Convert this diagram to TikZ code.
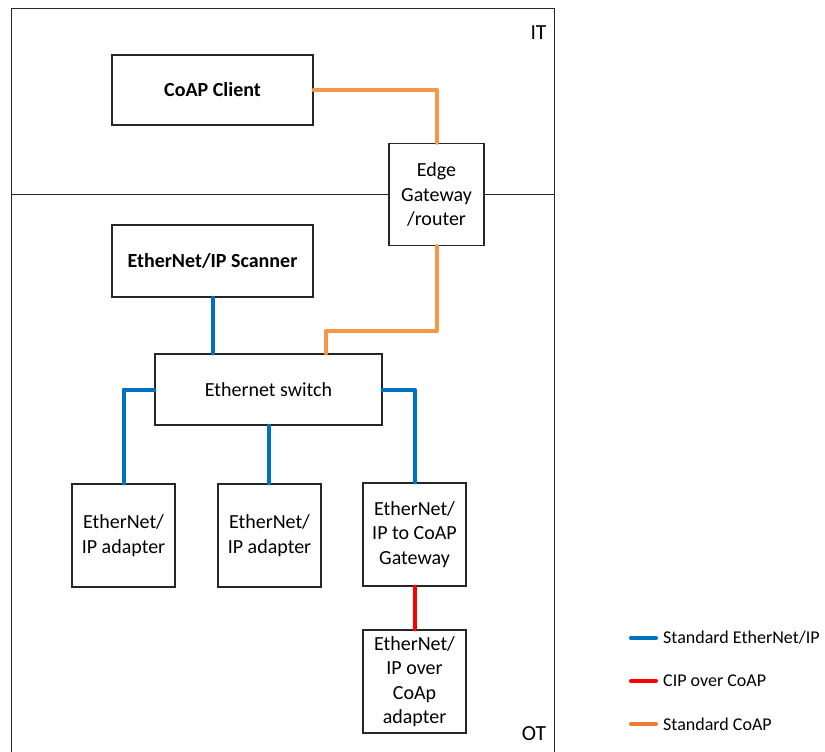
\documentclass[tikz,border=0pt]{standalone}
\usepackage{fontspec}
\setmainfont{Carlito}
\begin{document}
\begin{tikzpicture}[x=1pt,y=-1pt,
  box/.style={draw=black!85,line width=1.3pt,fill=white,align=center,
    font=\fontsize{20}{24.5}\selectfont,inner sep=2pt},
  boldbox/.style={box,font=\fontsize{20}{24.5}\selectfont\bfseries},
  link/.style={line width=4pt,line cap=round,line join=round},
  eip/.style={link,draw={rgb,255:red,0;green,112;blue,192}},
  cipcoap/.style={link,draw={rgb,255:red,255;green,0;blue,0}},
  coap/.style={link,draw={rgb,255:red,247;green,150;blue,70}},
  legcoap/.style={link,draw={rgb,255:red,237;green,125;blue,49}},
  legtext/.style={anchor=west,inner sep=0pt,font=\fontsize{18}{21}\selectfont},
  zonelbl/.style={inner sep=0pt,font=\fontsize{21.5}{24}\selectfont}]
\useasboundingbox (0,0) rectangle (825,752);

% IT / OT frame and divider
\draw[line width=1pt,black!85] (11,752) -- (11,9) -- (554,9) -- (554,752);
\draw[line width=1pt,black!85] (11,194) -- (554,194);
\node[zonelbl] (itlbl) at (538.5,32.5) {IT};
\node[zonelbl] (otlbl) at (534,734) {OT};

% devices
\node[boldbox,minimum width=201pt,minimum height=70pt] (client) at (212.5,90) {CoAP Client};
\node[box,minimum width=95pt,minimum height=102pt] (edge) at (436.5,194.5) {Edge\\Gateway\\/router};
\node[boldbox,minimum width=201pt,minimum height=72pt] (scanner) at (212.5,261) {EtherNet/IP Scanner};
\node[box,minimum width=227pt,minimum height=71pt] (switch) at (268.5,389.5) {Ethernet switch};
\node[box,minimum width=103pt,minimum height=103pt] (ad1) at (123.5,535.5) {EtherNet/\\IP adapter};
\node[box,minimum width=103pt,minimum height=103pt] (ad2) at (269.5,535.5) {EtherNet/\\IP adapter};
\node[box,minimum width=103pt,minimum height=103pt] (gwy) at (414.5,534.5) {EtherNet/\\IP to CoAP\\Gateway};
\node[box,minimum width=103pt,minimum height=103pt] (cad) at (414.5,681.5) {EtherNet/\\IP over\\CoAp\\adapter};

% connections
\draw[coap] (client.east) -| (edge.north);
\draw[coap] (edge.south) -- (edge.south |- 0,331) -| ([xshift=57.5pt]switch.north);
\draw[eip] (scanner.south) -- (scanner.south |- switch.north);
\draw[eip] (switch.west) -| (ad1.north);
\draw[eip] (switch.south) -- (switch.south |- ad2.north);
\draw[eip] (switch.east) -| (gwy.north);
\draw[cipcoap] (gwy.south) -- (cad.north);

% legend
\coordinate (l1a) at (631,638); \coordinate (l1b) at (656,638);
\coordinate (l2a) at (631,681); \coordinate (l2b) at (656,681);
\coordinate (l3a) at (631,724); \coordinate (l3b) at (656,724);
\draw[eip] (l1a) -- (l1b);
\draw[cipcoap] (l2a) -- (l2b);
\draw[legcoap] (l3a) -- (l3b);
\node[legtext] (t1) at (663,638) {Standard EtherNet/IP};
\node[legtext] (t2) at (663,681) {CIP over CoAP};
\node[legtext] (t3) at (663,724) {Standard CoAP};
\end{tikzpicture}
\end{document}
